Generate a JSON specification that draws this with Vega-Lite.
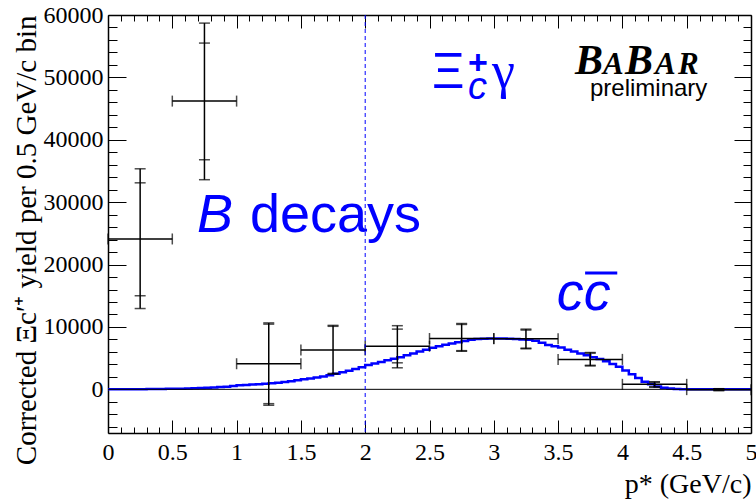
{
  "$schema": "https://vega.github.io/schema/vega-lite/v6.json",
  "width": 643,
  "height": 418,
  "autosize": "none",
  "padding": {"left": 108, "top": 15, "right": 5, "bottom": 68},
  "background": "white",
  "config": {
    "view": {"stroke": null},
    "axis": {
      "grid": false, "zindex": 1,
      "labelFont": "Liberation Serif", "titleFont": "Liberation Serif",
      "labelColor": "black", "titleColor": "black",
      "tickColor": "black", "domainColor": "black",
      "labelFlush": false, "titleFontWeight": "normal"
    }
  },
  "datasets": {
    "hist": [
      {"p": 0.00, "v": 5}, {"p": 0.05, "v": 10}, {"p": 0.10, "v": 15}, {"p": 0.15, "v": 20}, {"p": 0.20, "v": 25},
      {"p": 0.25, "v": 30}, {"p": 0.30, "v": 40}, {"p": 0.35, "v": 50}, {"p": 0.40, "v": 60}, {"p": 0.45, "v": 75},
      {"p": 0.50, "v": 90}, {"p": 0.55, "v": 110}, {"p": 0.60, "v": 140}, {"p": 0.65, "v": 170}, {"p": 0.70, "v": 210},
      {"p": 0.75, "v": 250}, {"p": 0.80, "v": 300}, {"p": 0.85, "v": 360}, {"p": 0.90, "v": 430}, {"p": 0.95, "v": 530},
      {"p": 1.00, "v": 640}, {"p": 1.05, "v": 700}, {"p": 1.10, "v": 760}, {"p": 1.15, "v": 830}, {"p": 1.20, "v": 900},
      {"p": 1.25, "v": 980}, {"p": 1.30, "v": 1070}, {"p": 1.35, "v": 1170}, {"p": 1.40, "v": 1300}, {"p": 1.45, "v": 1450},
      {"p": 1.50, "v": 1600}, {"p": 1.55, "v": 1750}, {"p": 1.60, "v": 1900}, {"p": 1.65, "v": 2050}, {"p": 1.70, "v": 2250},
      {"p": 1.75, "v": 2480}, {"p": 1.80, "v": 2720}, {"p": 1.85, "v": 2980}, {"p": 1.90, "v": 3250}, {"p": 1.95, "v": 3550},
      {"p": 2.00, "v": 3900}, {"p": 2.05, "v": 4150}, {"p": 2.10, "v": 4400}, {"p": 2.15, "v": 4650}, {"p": 2.20, "v": 4900},
      {"p": 2.25, "v": 5150}, {"p": 2.30, "v": 5450}, {"p": 2.35, "v": 5750}, {"p": 2.40, "v": 6050}, {"p": 2.45, "v": 6350},
      {"p": 2.50, "v": 6650}, {"p": 2.55, "v": 6900}, {"p": 2.60, "v": 7150}, {"p": 2.65, "v": 7350}, {"p": 2.70, "v": 7550},
      {"p": 2.75, "v": 7750}, {"p": 2.80, "v": 7950}, {"p": 2.85, "v": 8050}, {"p": 2.90, "v": 8100}, {"p": 2.95, "v": 8150},
      {"p": 3.00, "v": 8150}, {"p": 3.05, "v": 8150}, {"p": 3.10, "v": 8100}, {"p": 3.15, "v": 8050}, {"p": 3.20, "v": 8000},
      {"p": 3.25, "v": 7950}, {"p": 3.30, "v": 7800}, {"p": 3.35, "v": 7450}, {"p": 3.40, "v": 7100}, {"p": 3.45, "v": 6900},
      {"p": 3.50, "v": 6700}, {"p": 3.55, "v": 6350}, {"p": 3.60, "v": 6050}, {"p": 3.65, "v": 5750}, {"p": 3.70, "v": 5450},
      {"p": 3.75, "v": 5150}, {"p": 3.80, "v": 4850}, {"p": 3.85, "v": 4500}, {"p": 3.90, "v": 4050}, {"p": 3.95, "v": 3600},
      {"p": 4.00, "v": 3000}, {"p": 4.05, "v": 2400}, {"p": 4.10, "v": 1800}, {"p": 4.15, "v": 1200}, {"p": 4.20, "v": 800},
      {"p": 4.25, "v": 450}, {"p": 4.30, "v": 250}, {"p": 4.35, "v": 130}, {"p": 4.40, "v": 60}, {"p": 4.45, "v": 20},
      {"p": 4.50, "v": 10}, {"p": 4.55, "v": 5}, {"p": 4.60, "v": 0}, {"p": 4.65, "v": 0}, {"p": 4.70, "v": 0},
      {"p": 4.75, "v": 0}, {"p": 4.80, "v": 0}, {"p": 4.85, "v": 0}, {"p": 4.90, "v": 0}, {"p": 4.95, "v": 0},
      {"p": 5.00, "v": 0}
    ],
    "pts": [
      {"p": 0.25, "lo": 0.0, "hi": 0.5, "y": 24100, "slo": 15000, "shi": 33100, "tlo": 12950, "thi": 35350},
      {"p": 0.75, "lo": 0.5, "hi": 1.0, "y": 46200, "slo": 36800, "shi": 55500, "tlo": 33600, "thi": 58700},
      {"p": 1.25, "lo": 1.0, "hi": 1.5, "y": 4100, "slo": -2300, "shi": 10450, "tlo": -2550, "thi": 10650},
      {"p": 1.75, "lo": 1.5, "hi": 2.0, "y": 6300, "slo": 2550, "shi": 10100, "tlo": 2450, "thi": 10250},
      {"p": 2.25, "lo": 2.0, "hi": 2.5, "y": 6900, "slo": 4250, "shi": 9650, "tlo": 3450, "thi": 10200},
      {"p": 2.75, "lo": 2.5, "hi": 3.0, "y": 8150, "slo": 6200, "shi": 10400, "tlo": 6100, "thi": 10550},
      {"p": 3.25, "lo": 3.0, "hi": 3.5, "y": 8100, "slo": 6600, "shi": 9500, "tlo": 6500, "thi": 9650},
      {"p": 3.75, "lo": 3.5, "hi": 4.0, "y": 4800, "slo": 3850, "shi": 5800, "tlo": 3750, "thi": 5900},
      {"p": 4.25, "lo": 4.0, "hi": 4.5, "y": 800, "slo": 400, "shi": 1150, "tlo": 350, "thi": 1200},
      {"p": 4.75, "lo": 4.5, "hi": 5.0, "y": -50, "slo": -180, "shi": 80, "tlo": -200, "thi": 100}
    ]
  },
  "layer": [
    {
      "data": {"name": "hist"},
      "mark": {"type": "line", "interpolate": "step-after", "color": "#0000ff", "strokeWidth": 2.5, "clip": true},
      "encoding": {
        "x": {"field": "p", "type": "quantitative", "scale": {"domain": [0, 5], "nice": false, "zero": false},
          "axis": {"orient": "bottom", "values": [0, 0.5, 1, 1.5, 2, 2.5, 3, 3.5, 4, 4.5, 5], "format": ".1~f",
            "ticks": false, "domain": true, "domainWidth": 1.5, "labelFontSize": 24, "labelPadding": 7,
            "title": "p* (GeV/c)", "titleFontSize": 28, "titleAnchor": "end", "titlePadding": 6}},
        "y": {"field": "v", "type": "quantitative", "scale": {"domain": [-7000, 60000], "nice": false, "zero": false},
          "axis": {"orient": "left", "values": [0, 10000, 20000, 30000, 40000, 50000, 60000], "format": "d",
            "ticks": false, "domain": true, "domainWidth": 1.5, "labelFontSize": 24, "labelPadding": 5,
            "title": "Corrected Ξc′⁺ yield per 0.5 GeV/c bin", "titleFontSize": 29, "titleAnchor": "end", "titlePadding": 2}}
      }
    },
    {
      "data": {"values": [{"x0": 0, "x1": 5, "y0": 0}]},
      "mark": {"type": "rule", "color": "black", "strokeWidth": 1},
      "encoding": {
        "x": {"field": "x0", "type": "quantitative",
          "axis": {"orient": "bottom", "values": [0, 0.5, 1, 1.5, 2, 2.5, 3, 3.5, 4, 4.5, 5], "labels": false, "domain": false, "ticks": true, "tickSize": -13, "tickWidth": 1, "title": null}},
        "x2": {"field": "x1"},
        "y": {"field": "y0", "type": "quantitative",
          "axis": {"orient": "left", "values": [0, 10000, 20000, 30000, 40000, 50000, 60000], "labels": false, "domain": false, "ticks": true, "tickSize": -18, "tickWidth": 1, "title": null}}
      }
    },
    {
      "data": {"name": "pts"},
      "mark": {"type": "rule", "color": "black", "strokeWidth": 1.5},
      "encoding": {
        "x": {"field": "lo", "type": "quantitative",
          "axis": {"orient": "bottom", "values": [0.1, 0.2, 0.3, 0.4, 0.6, 0.7, 0.8, 0.9, 1.1, 1.2, 1.3, 1.4, 1.6, 1.7, 1.8, 1.9, 2.1, 2.2, 2.3, 2.4, 2.6, 2.7, 2.8, 2.9, 3.1, 3.2, 3.3, 3.4, 3.6, 3.7, 3.8, 3.9, 4.1, 4.2, 4.3, 4.4, 4.6, 4.7, 4.8, 4.9],
            "labels": false, "domain": false, "ticks": true, "tickSize": -6, "tickWidth": 1, "title": null}},
        "x2": {"field": "hi"},
        "y": {"field": "y", "type": "quantitative",
          "axis": {"orient": "left", "values": [-6000, -4000, -2000, 2000, 4000, 6000, 8000, 12000, 14000, 16000, 18000, 22000, 24000, 26000, 28000, 32000, 34000, 36000, 38000, 42000, 44000, 46000, 48000, 52000, 54000, 56000, 58000],
            "labels": false, "domain": false, "ticks": true, "tickSize": -9, "tickWidth": 1, "title": null}}
      }
    },
    {
      "data": {"name": "pts"},
      "mark": {"type": "rule", "color": "black", "strokeWidth": 1.5},
      "encoding": {
        "x": {"field": "p", "type": "quantitative",
          "axis": {"orient": "top", "values": [0, 0.5, 1, 1.5, 2, 2.5, 3, 3.5, 4, 4.5, 5], "labels": false, "domain": true, "domainWidth": 1.5, "ticks": true, "tickSize": -13, "tickWidth": 1, "title": null}},
        "y": {"field": "tlo", "type": "quantitative",
          "axis": {"orient": "right", "values": [0, 10000, 20000, 30000, 40000, 50000, 60000], "labels": false, "domain": true, "domainWidth": 1.5, "ticks": true, "tickSize": -17, "tickWidth": 1, "title": null}},
        "y2": {"field": "thi"}
      }
    },
    {
      "data": {"name": "pts"},
      "mark": {"type": "tick", "orient": "vertical", "color": "black", "size": 11, "thickness": 1.5},
      "encoding": {
        "x": {"field": "lo", "type": "quantitative",
          "axis": {"orient": "top", "values": [0.1, 0.2, 0.3, 0.4, 0.6, 0.7, 0.8, 0.9, 1.1, 1.2, 1.3, 1.4, 1.6, 1.7, 1.8, 1.9, 2.1, 2.2, 2.3, 2.4, 2.6, 2.7, 2.8, 2.9, 3.1, 3.2, 3.3, 3.4, 3.6, 3.7, 3.8, 3.9, 4.1, 4.2, 4.3, 4.4, 4.6, 4.7, 4.8, 4.9],
            "labels": false, "domain": false, "ticks": true, "tickSize": -6, "tickWidth": 1, "title": null}},
        "y": {"field": "y", "type": "quantitative",
          "axis": {"orient": "right", "values": [-6000, -4000, -2000, 2000, 4000, 6000, 8000, 12000, 14000, 16000, 18000, 22000, 24000, 26000, 28000, 32000, 34000, 36000, 38000, 42000, 44000, 46000, 48000, 52000, 54000, 56000, 58000],
            "labels": false, "domain": false, "ticks": true, "tickSize": -8, "tickWidth": 1, "title": null}}
      }
    },
    {
      "data": {"name": "pts"},
      "mark": {"type": "tick", "orient": "vertical", "color": "black", "size": 11, "thickness": 1.5},
      "encoding": {
        "x": {"field": "hi", "type": "quantitative", "axis": null},
        "y": {"field": "y", "type": "quantitative", "axis": null}
      }
    },
    {
      "data": {"name": "pts"},
      "mark": {"type": "tick", "orient": "horizontal", "color": "black", "size": 11, "thickness": 1.5},
      "encoding": {
        "x": {"field": "p", "type": "quantitative", "axis": null},
        "y": {"field": "tlo", "type": "quantitative", "axis": null}
      }
    },
    {
      "data": {"name": "pts"},
      "mark": {"type": "tick", "orient": "horizontal", "color": "black", "size": 11, "thickness": 1.5},
      "encoding": {
        "x": {"field": "p", "type": "quantitative", "axis": null},
        "y": {"field": "thi", "type": "quantitative", "axis": null}
      }
    },
    {
      "data": {"name": "pts"},
      "mark": {"type": "tick", "orient": "horizontal", "color": "black", "size": 11, "thickness": 1.5},
      "encoding": {
        "x": {"field": "p", "type": "quantitative", "axis": null},
        "y": {"field": "slo", "type": "quantitative", "axis": null}
      }
    },
    {
      "data": {"name": "pts"},
      "mark": {"type": "tick", "orient": "horizontal", "color": "black", "size": 11, "thickness": 1.5},
      "encoding": {
        "x": {"field": "p", "type": "quantitative", "axis": null},
        "y": {"field": "shi", "type": "quantitative", "axis": null}
      }
    },
    {
      "data": {"values": [{"x": 2}]},
      "mark": {"type": "rule", "color": "#0000ff", "strokeWidth": 1, "strokeDash": [4, 3]},
      "encoding": {
        "x": {"field": "x", "type": "quantitative", "axis": null}
      }
    },
    {
      "data": {"values": [{"x": 2.52, "y": 48240, "t": "Ξ"}]},
      "mark": {"type": "text", "font": "Liberation Sans", "fontSize": 50, "color": "#0000ff", "align": "left", "baseline": "alphabetic"},
      "encoding": {
        "x": {"field": "x", "type": "quantitative", "axis": null},
        "y": {"field": "y", "type": "quantitative", "axis": null},
        "text": {"field": "t"}
      }
    },
    {
      "data": {"values": [{"x": 2.80, "y": 50490, "t": "+"}]},
      "mark": {"type": "text", "font": "Liberation Sans", "fontSize": 34, "fontWeight": "bold", "color": "#0000ff", "align": "left", "baseline": "alphabetic"},
      "encoding": {
        "x": {"field": "x", "type": "quantitative", "axis": null},
        "y": {"field": "y", "type": "quantitative", "axis": null},
        "text": {"field": "t"}
      }
    },
    {
      "data": {"values": [{"x": 2.80, "y": 46470, "t": "c"}]},
      "mark": {"type": "text", "font": "Liberation Sans", "fontSize": 38, "fontStyle": "italic", "color": "#0000ff", "align": "left", "baseline": "alphabetic"},
      "encoding": {
        "x": {"field": "x", "type": "quantitative", "axis": null},
        "y": {"field": "y", "type": "quantitative", "axis": null},
        "text": {"field": "t"}
      }
    },
    {
      "data": {"values": [{"x": 2.986, "y": 48240, "t": "γ"}]},
      "mark": {"type": "text", "font": "Liberation Serif", "fontSize": 52, "color": "#0000ff", "align": "left", "baseline": "alphabetic"},
      "encoding": {
        "x": {"field": "x", "type": "quantitative", "axis": null},
        "y": {"field": "y", "type": "quantitative", "axis": null},
        "text": {"field": "t"}
      }
    },
    {
      "data": {"values": [{"x": 3.632, "y": 50490, "t": "B"}, {"x": 4.021, "y": 50490, "t": "B"}]},
      "mark": {"type": "text", "font": "Liberation Serif", "fontSize": 42, "fontWeight": "bold", "fontStyle": "italic", "color": "black", "align": "left", "baseline": "alphabetic"},
      "encoding": {
        "x": {"field": "x", "type": "quantitative", "axis": null},
        "y": {"field": "y", "type": "quantitative", "axis": null},
        "text": {"field": "t"}
      }
    },
    {
      "data": {"values": [{"x": 3.849, "y": 50490, "t": "A"}, {"x": 4.254, "y": 50490, "t": "A"}, {"x": 4.433, "y": 50490, "t": "R"}]},
      "mark": {"type": "text", "font": "Liberation Serif", "fontSize": 31, "fontWeight": "bold", "fontStyle": "italic", "color": "black", "align": "left", "baseline": "alphabetic"},
      "encoding": {
        "x": {"field": "x", "type": "quantitative", "axis": null},
        "y": {"field": "y", "type": "quantitative", "axis": null},
        "text": {"field": "t"}
      }
    },
    {
      "data": {"values": [{"x": 3.748, "y": 47000, "t": "preliminary"}]},
      "mark": {"type": "text", "font": "Liberation Sans", "fontSize": 24, "color": "black", "align": "left", "baseline": "alphabetic"},
      "encoding": {
        "x": {"field": "x", "type": "quantitative", "axis": null},
        "y": {"field": "y", "type": "quantitative", "axis": null},
        "text": {"field": "t"}
      }
    },
    {
      "data": {"values": [{"x": 0.692, "y": 25245, "t": "B"}, {"x": 3.49, "y": 12700, "t": "cc"}]},
      "mark": {"type": "text", "font": "Liberation Sans", "fontSize": 54, "fontStyle": "italic", "color": "#0000ff", "align": "left", "baseline": "alphabetic"},
      "encoding": {
        "x": {"field": "x", "type": "quantitative", "axis": null},
        "y": {"field": "y", "type": "quantitative", "axis": null},
        "text": {"field": "t"}
      }
    },
    {
      "data": {"values": [{"x": 1.104, "y": 25245, "t": "decays"}]},
      "mark": {"type": "text", "font": "Liberation Sans", "fontSize": 54, "color": "#0000ff", "align": "left", "baseline": "alphabetic"},
      "encoding": {
        "x": {"field": "x", "type": "quantitative", "axis": null},
        "y": {"field": "y", "type": "quantitative", "axis": null},
        "text": {"field": "t"}
      }
    },
    {
      "data": {"values": [{"x0": 3.71, "x1": 3.96, "y": 18650}]},
      "mark": {"type": "rule", "color": "#0000ff", "strokeWidth": 3},
      "encoding": {
        "x": {"field": "x0", "type": "quantitative", "axis": null},
        "x2": {"field": "x1"},
        "y": {"field": "y", "type": "quantitative", "axis": null}
      }
    }
  ],
  "resolve": {"axis": {"x": "independent", "y": "independent"}}
}
